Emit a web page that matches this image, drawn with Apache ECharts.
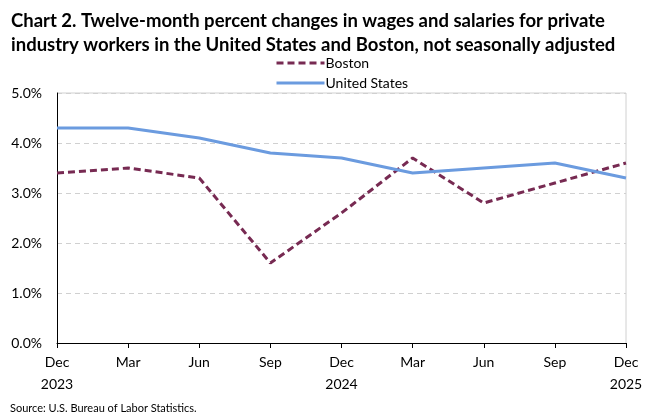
<!DOCTYPE html>
<html><head><meta charset="utf-8">
<script src="https://cdn.jsdelivr.net/npm/echarts@6/dist/echarts.min.js"></script>
<style>html,body{margin:0;padding:0;background:#fff}#c{width:667px;height:413px}</style>
</head><body><div id="c"></div>
<script>
const categories = ['Dec\n2023','Mar','Jun','Sep','Dec\n2024','Mar','Jun','Sep','Dec\n2025'];
const boston = [3.4, 3.5, 3.3, 1.6, 2.6, 3.7, 2.8, 3.2, 3.6];
const unitedStates = [4.3, 4.3, 4.1, 3.8, 3.7, 3.4, 3.5, 3.6, 3.3];
const yTicks = [0, 1, 2, 3, 4, 5];

const chart = echarts.init(document.getElementById('c'), null, {renderer:'canvas'});
const F = 'Lato, "Open Sans", sans-serif';
chart.setOption({
  animation: false,
  title: [{
    text: 'Chart 2. Twelve-month percent changes in wages and salaries for private\nindustry workers in the United States and Boston, not seasonally adjusted',
    left: 6, top: 4,
    textStyle: {fontFamily: F, fontWeight: 'bold', fontSize: 18.5, lineHeight: 24, color: '#000'}
  },{
    text: 'Source: U.S. Bureau of Labor Statistics.',
    left: 5, top: 398,
    textStyle: {fontFamily: F, fontWeight: 'normal', fontSize: 11, color: '#000'}
  }],
  legend: {
    orient: 'vertical', left: 270, top: 51,
    itemWidth: 48, itemHeight: 12, itemGap: 6,
    lineStyle: {width: 3},
    itemStyle: {opacity: 0},
    textStyle: {fontFamily: F, fontSize: 14, color: '#000', padding: [0,0,0,-4]},
    data: ['Boston','United States']
  },
  grid: {left: 57, right: 41, top: 93, bottom: 70, containLabel: false},
  xAxis: {
    type: 'category', data: categories, boundaryGap: false,
    axisLine: {lineStyle: {color: '#000', width: 1}},
    axisTick: {show: true, alignWithLabel: true, length: 5, lineStyle: {color: '#000'}},
    axisLabel: {fontFamily: F, fontSize: 14, color: '#000', lineHeight: 22, margin: 8, interval: 0},
    splitLine: {show: false}
  },
  yAxis: {
    type: 'value', min: 0, max: 5, interval: 1,
    axisLine: {show: true, lineStyle: {color: '#000'}},
    axisTick: {show: false},
    axisLabel: {fontFamily: F, fontSize: 14, color: '#000', margin: 15,
      formatter: v => v.toFixed(1) + '%'},
    splitLine: {show: true, lineStyle: {color: '#d0d0d0', type: [5,4], width: 1}}
  },
  graphic: [{
    type: 'line', shape: {x1: 626, y1: 93, x2: 626, y2: 343},
    style: {stroke: '#d0d0d0', lineWidth: 1}
  },{
    type: 'line', shape: {x1: 57, y1: 93, x2: 626, y2: 93},
    style: {stroke: '#d0d0d0', lineWidth: 1}
  }],
  series: [{
    name: 'Boston', type: 'line', data: boston, symbol: 'none',
    lineStyle: {color: '#772a52', width: 3, type: [7,4]},
    itemStyle: {color: '#772a52'}
  },{
    name: 'United States', type: 'line', data: unitedStates, symbol: 'none',
    lineStyle: {color: '#6b9bdf', width: 3},
    itemStyle: {color: '#6b9bdf'}
  }]
});
</script></body></html>
